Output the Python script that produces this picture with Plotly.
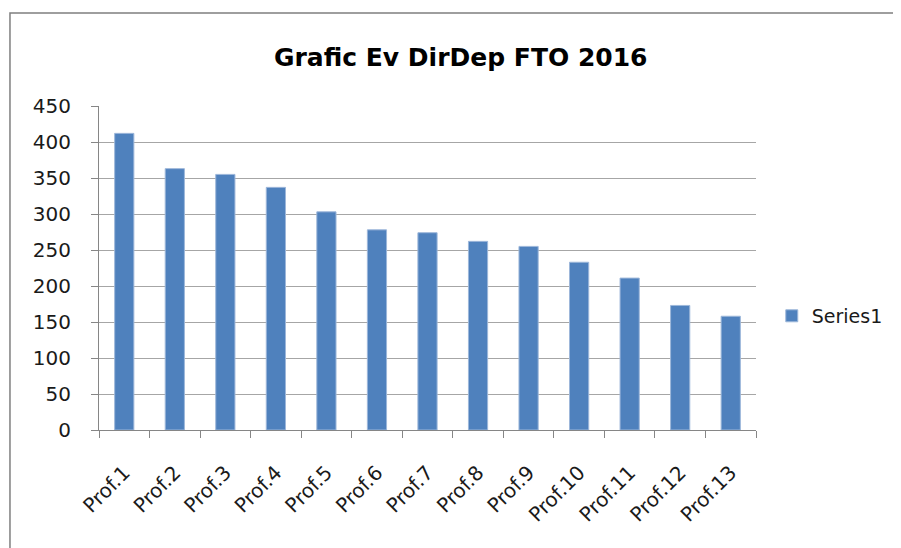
import plotly.graph_objects as go

categories = ["Prof.1", "Prof.2", "Prof.3", "Prof.4", "Prof.5", "Prof.6", "Prof.7",
              "Prof.8", "Prof.9", "Prof.10", "Prof.11", "Prof.12", "Prof.13"]
values = [412, 363, 355, 337, 303, 278, 274, 262, 255, 233, 211, 173, 158]
series_name = "Series1"
title_text = "Grafic Ev DirDep FTO 2016"
y_ticks = [0, 50, 100, 150, 200, 250, 300, 350, 400, 450]

FONT = "DejaVu Sans"
TXT = "#1a1a1a"

fig = go.Figure()
fig.add_trace(go.Bar(
    x=categories, y=values, name=series_name,
    marker=dict(color="#4F81BD", line=dict(color="#9DB7DA", width=1)),
    showlegend=True,
))

fig.update_layout(
    width=893, height=540,
    paper_bgcolor="white", plot_bgcolor="white",
    margin=dict(l=91, r=145, t=98, b=118),
    bargap=0.62,
    title=dict(text="<b>" + title_text + "</b>", x=0.507, xanchor="center",
               y=0.909, yanchor="middle",
               font=dict(family=FONT, size=25, color="#000")),
    font=dict(family=FONT, color=TXT),
    legend=dict(x=1.024, y=0.352, xanchor="left", yanchor="middle",
                font=dict(family=FONT, size=19, color=TXT),
                itemwidth=30, borderwidth=0),
    xaxis=dict(
        type="category", tickangle=-45, tickson="boundaries",
        ticks="outside", ticklen=7, tickcolor="#868686",
        showline=True, linecolor="#868686", linewidth=1,
        showgrid=False, ticklabelstandoff=22,
        tickfont=dict(family=FONT, size=20, color=TXT),
    ),
    yaxis=dict(
        range=[0, 450], tickvals=y_ticks, ticks="outside", ticklen=7,
        tickcolor="#868686", showline=True, linecolor="#868686", linewidth=1,
        showgrid=True, gridcolor="#A6A6A6", gridwidth=1, zeroline=False,
        ticklabelstandoff=16,
        tickfont=dict(family=FONT, size=20, color=TXT),
    ),
    shapes=[dict(type="rect", xref="paper", yref="paper",
                 x0=-0.1355, x1=1.4, y0=-0.6, y1=1.287,
                 line=dict(color="#7F7F7F", width=1.5), fillcolor="rgba(0,0,0,0)",
                 layer="below")],
)

fig.write_html("out.html")
